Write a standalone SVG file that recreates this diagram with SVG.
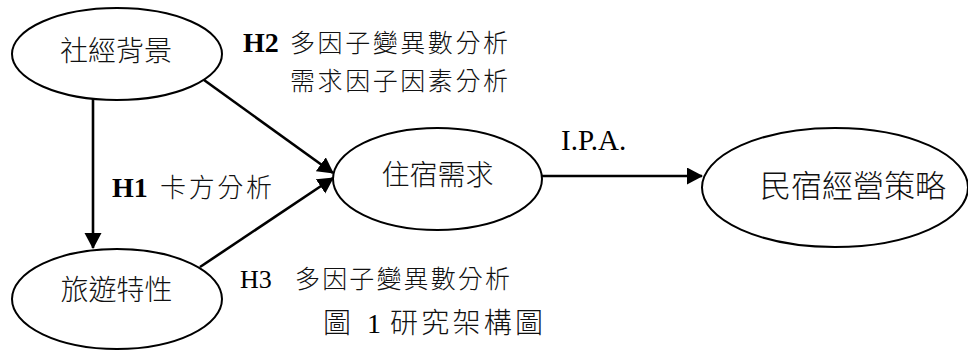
<svg xmlns="http://www.w3.org/2000/svg" width="968" height="351" viewBox="0 0 968 351">
<defs>
<style>
.node{fill:#fff;stroke:#000;stroke-width:2}
.cjk{font-family:"Noto Sans CJK TC","Noto Sans CJK SC",sans-serif;font-weight:300;fill:#111}
.lat{font-family:"Liberation Serif","Times New Roman",serif;fill:#000}
.edge{stroke:#000;stroke-width:2.6;fill:none}
</style>
<marker id="ah" markerUnits="userSpaceOnUse" markerWidth="16" markerHeight="18" refX="15" refY="8.5" orient="auto">
<path d="M0,0 L16,8.5 L0,17 z" fill="#000"/>
</marker>
</defs>
<rect width="968" height="351" fill="#fff"/>
<g id="connectors">
<line class="edge" x1="93" y1="98" x2="93" y2="248" marker-end="url(#ah)"/>
<line class="edge" x1="204" y1="80" x2="333" y2="173" marker-end="url(#ah)"/>
<line class="edge" x1="200" y1="267" x2="333" y2="178" marker-end="url(#ah)"/>
<line class="edge" x1="542" y1="176" x2="702" y2="176" marker-end="url(#ah)"/>
</g>
<g id="node-socio">
<ellipse class="node" cx="117" cy="54" rx="105" ry="46"/>
<text class="cjk" x="116" y="61" font-size="28" text-anchor="middle">社經背景</text>
</g>
<g id="node-travel">
<ellipse class="node" cx="117" cy="299" rx="105" ry="50"/>
<text class="cjk" x="116.5" y="299.5" font-size="28" text-anchor="middle">旅遊特性</text>
</g>
<g id="node-demand">
<ellipse class="node" cx="437.5" cy="179" rx="104.5" ry="51"/>
<text class="cjk" x="437.5" y="185" font-size="28" text-anchor="middle">住宿需求</text>
</g>
<g id="node-strategy">
<ellipse class="node" cx="835" cy="187.5" rx="133" ry="59.5"/>
<text class="cjk" x="853" y="197" font-size="31" text-anchor="middle">民宿經營策略</text>
</g>
<g id="labels">
<text class="lat" x="243" y="52" font-size="28" font-weight="bold">H2</text>
<text class="cjk" x="290" y="52" font-size="25" textLength="218" lengthAdjust="spacing">多因子變異數分析</text>
<text class="cjk" x="290" y="90" font-size="25" textLength="218" lengthAdjust="spacing">需求因子因素分析</text>
<text class="lat" x="112" y="197" font-size="28" font-weight="bold">H1</text>
<text class="cjk" x="160" y="197" font-size="26" textLength="112" lengthAdjust="spacing">卡方分析</text>
<text class="lat" x="240" y="288" font-size="26">H3</text>
<text class="cjk" x="295" y="288" font-size="25" textLength="215" lengthAdjust="spacing">多因子變異數分析</text>
<text class="lat" x="561" y="150" font-size="29">I.P.A.</text>
<text class="cjk" x="323" y="333" font-size="28">圖</text>
<text class="lat" x="367" y="333" font-size="28">1</text>
<text class="cjk" x="390" y="333" font-size="28" textLength="153" lengthAdjust="spacing">研究架構圖</text>
</g>
</svg>
